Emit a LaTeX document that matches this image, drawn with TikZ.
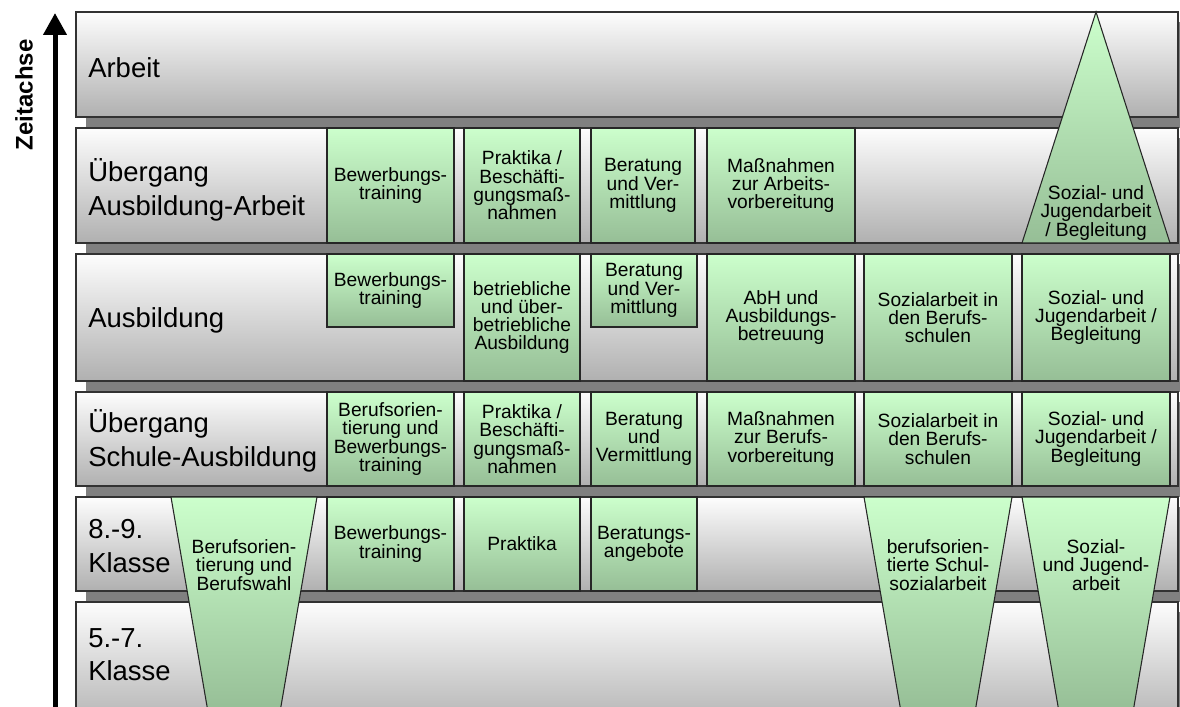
\documentclass[tikz,border=0pt]{standalone}
\usepackage{fontspec}
\setmainfont{Liberation Sans}
\usetikzlibrary{arrows.meta}

\definecolor{bandtop}{RGB}{253,253,253}
\definecolor{bandbot}{RGB}{176,176,176}
\definecolor{bandline}{RGB}{50,50,50}
\definecolor{shadowgray}{RGB}{128,128,128}
\definecolor{greentop}{RGB}{204,255,204}
\definecolor{greenbot}{RGB}{150,190,150}

\begin{document}
\begin{tikzpicture}[x=0.75pt,y=0.75pt,
    band/.style={draw=bandline, line width=0.8pt, top color=bandtop, bottom color=bandbot},
    greenbox/.style={draw=black!85, line width=0.8pt, top color=greentop, bottom color=greenbot},
    rowlabel/.style={anchor=west, align=left, inner sep=0pt, font=\fontsize{20.6}{25}\selectfont},
    boxtext/.style={align=center, inner sep=0pt, font=\fontsize{14.4}{13.7}\selectfont}]

    \useasboundingbox (0,0) rectangle (1180,-706);

    % Shadows and bands
    \foreach \t/\b in {12/117, 128/243, 254/381, 392/486, 497/591, 602/730}
        \fill[shadowgray] (86,-\t-10) rectangle (1190,-\b-11);
    \foreach \t/\b in {12/117, 128/243, 254/381, 392/486, 497/591, 602/730}
        \draw[band] (76,-\t) rectangle (1178,-\b);

    % Uebergang Ausbildung-Arbeit
    \draw[greenbox] (327,-128) rectangle (454,-243) node[boxtext, midway] (aa1) {Bewerbungs-\\training};
    \draw[greenbox] (464,-128) rectangle (580,-243) node[boxtext, midway] (aa2) {Praktika /\\Beschäfti-\\gungsmaß-\\nahmen};
    \draw[greenbox] (591,-128) rectangle (695,-243) node[boxtext, midway] (aa3) {Beratung\\und Ver-\\mittlung};
    \draw[greenbox] (707,-128) rectangle (855,-243) node[boxtext, midway] (aa4) {Maßnahmen\\zur Arbeits-\\vorbereitung};

    % Ausbildung
    \draw[greenbox] (327,-254) rectangle (454,-327) node[boxtext, midway] (ab1) {Bewerbungs-\\training};
    \draw[greenbox] (464,-254) rectangle (580,-381) node[boxtext, midway] (ab2) {betriebliche\\und über-\\betriebliche\\Ausbildung};
    \draw[greenbox] (591,-254) rectangle (697,-327) node[boxtext, midway] (ab3) {Beratung\\und Ver-\\mittlung};
    \draw[greenbox] (707,-254) rectangle (855,-381) node[boxtext, midway] (ab4) {AbH und\\Ausbildungs-\\betreuung};
    \draw[greenbox] (864,-254) rectangle (1012,-381) node[boxtext, midway] (ab5) {Sozialarbeit in\\den Berufs-\\schulen};
    \draw[greenbox] (1022,-254) rectangle (1170,-381) node[boxtext, midway] (ab6) {Sozial- und\\Jugendarbeit /\\Begleitung};

    % Uebergang Schule-Ausbildung
    \draw[greenbox] (327,-392) rectangle (454,-486) node[boxtext, midway] (sa1) {Berufsorien-\\tierung und\\Bewerbungs-\\training};
    \draw[greenbox] (464,-392) rectangle (580,-486) node[boxtext, midway] (sa2) {Praktika /\\Beschäfti-\\gungsmaß-\\nahmen};
    \draw[greenbox] (591,-392) rectangle (697,-486) node[boxtext, midway] (sa3) {Beratung\\und\\Vermittlung};
    \draw[greenbox] (707,-392) rectangle (855,-486) node[boxtext, midway] (sa4) {Maßnahmen\\zur Berufs-\\vorbereitung};
    \draw[greenbox] (864,-392) rectangle (1012,-486) node[boxtext, midway] (sa5) {Sozialarbeit in\\den Berufs-\\schulen};
    \draw[greenbox] (1022,-392) rectangle (1170,-486) node[boxtext, midway] (sa6) {Sozial- und\\Jugendarbeit /\\Begleitung};

    % 8.-9. Klasse
    \draw[greenbox] (327,-497) rectangle (454,-591) node[boxtext, midway] (kl1) {Bewerbungs-\\training};
    \draw[greenbox] (464,-497) rectangle (580,-591) node[boxtext, midway] (kl2) {Praktika};
    \draw[greenbox] (591,-497) rectangle (697,-591) node[boxtext, midway] (kl3) {Beratungs-\\angebote};

    % Triangle and funnels
    \draw[greenbox] (1022,-243) -- (1096,-12) -- (1170,-243) -- cycle;
    \node[boxtext] (tri) at (1096,-213) {Sozial- und\\Jugendarbeit\\/ Begleitung};

    \draw[greenbox] (171,-497) -- (317,-497) -- (280,-712) -- (208,-712) -- cycle;
    \node[boxtext] (fun1) at (244,-565) {Berufsorien-\\tierung und\\Berufswahl};
    \draw[greenbox] (864,-497) -- (1012,-497) -- (975,-712) -- (901,-712) -- cycle;
    \node[boxtext] (fun2) at (938,-565) {berufsorien-\\tierte Schul-\\sozialarbeit};
    \draw[greenbox] (1022,-497) -- (1170,-497) -- (1133,-712) -- (1059,-712) -- cycle;
    \node[boxtext] (fun3) at (1096,-565) {Sozial-\\und Jugend-\\arbeit};

    % Row labels
    \node[rowlabel] (arbeit) at (88,-68) {Arbeit};
    \node[rowlabel] (uebaa) at (88,-190) {Übergang\\Ausbildung-Arbeit};
    \node[rowlabel] (ausb) at (88,-320) {Ausbildung};
    \node[rowlabel] (uebsa) at (88,-441) {Übergang\\Schule-Ausbildung};
    \node[rowlabel] (kl89) at (88,-546) {8.-9.\\Klasse};
    \node[rowlabel] (kl57) at (88,-655) {5.-7.\\Klasse};

    % Time axis
    \coordinate (tbase) at (55,-712);
    \coordinate (ttip) at (55,-13);
    \draw[line width=3.75pt, -{Triangle[width=17pt,length=16.5pt]}] (tbase) -- (ttip);
    \node[rotate=90, font=\bfseries\fontsize{18}{20}\selectfont] (zeit) at (24,-95) {Zeitachse};

\end{tikzpicture}
\end{document}
